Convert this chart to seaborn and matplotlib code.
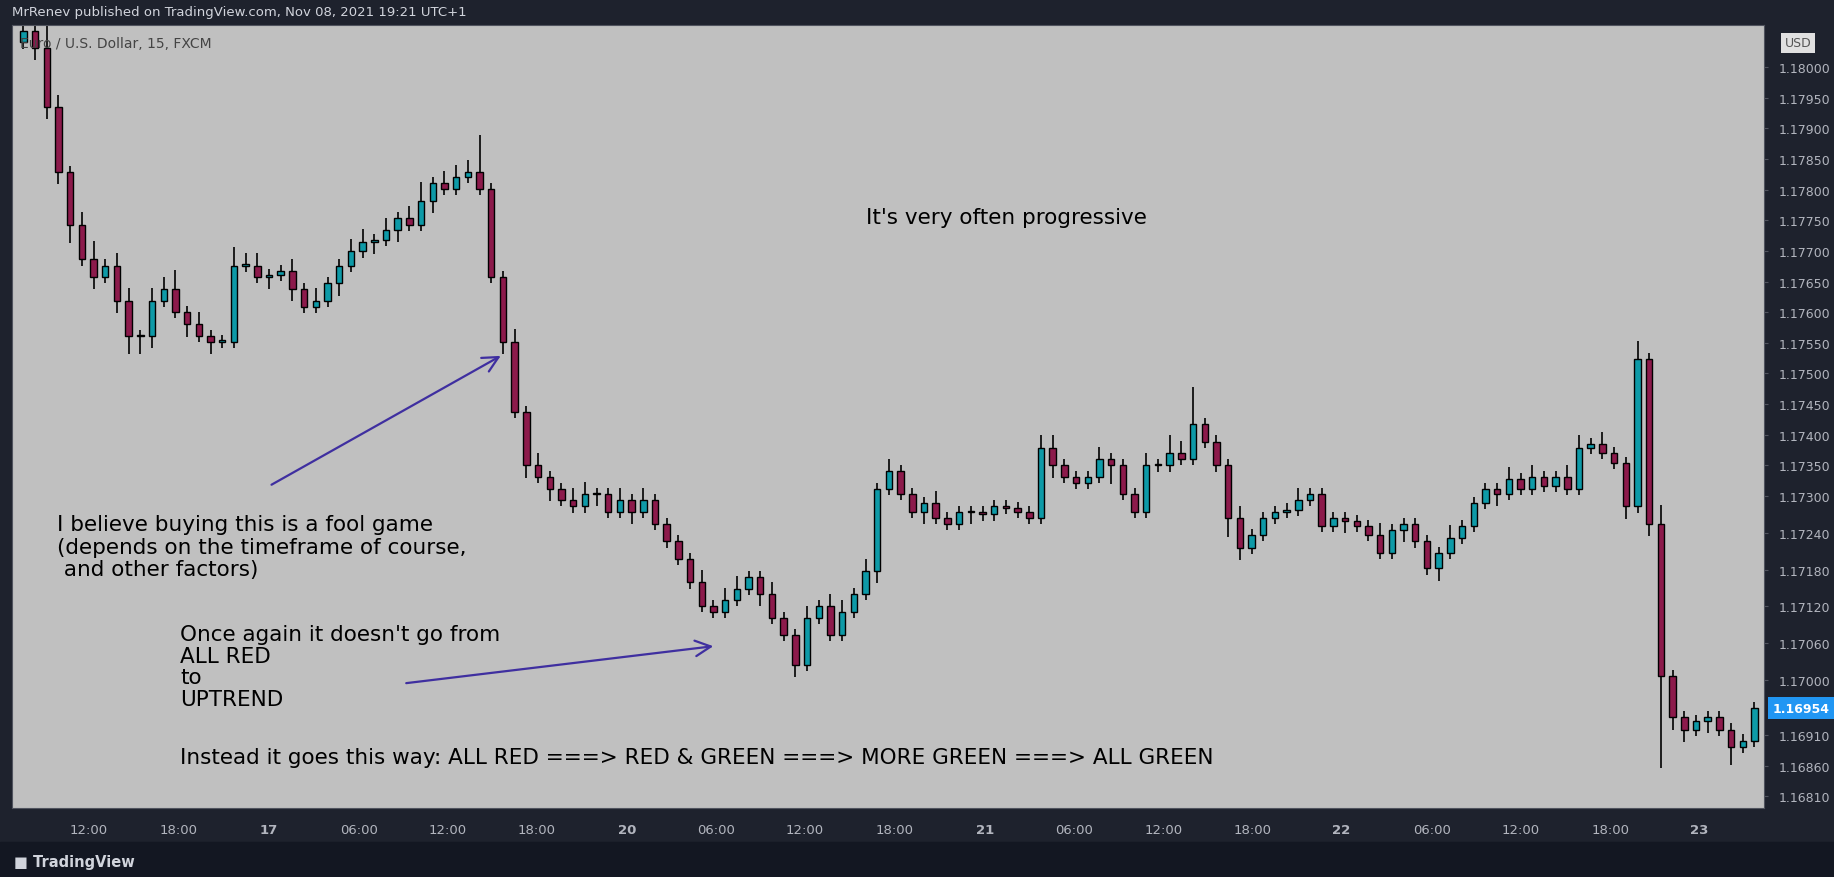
import numpy as np
import pandas as pd
import seaborn as sns
from matplotlib import pyplot as plt

sns.set_style("white")

# EUR/USD 15m, resampled to ~47 min candles
closes = [
    1.18059, 1.18031, 1.17935, 1.17829, 1.17743, 1.17686, 1.17657, 1.17676, 1.17619, 1.17561,
    1.17561, 1.17619, 1.17638, 1.17600, 1.17580, 1.17561, 1.17552, 1.17552, 1.17676, 1.17676,
    1.17657, 1.17661, 1.17667, 1.17638, 1.17609, 1.17619, 1.17647, 1.17676, 1.17699, 1.17715,
    1.17718, 1.17734, 1.17753, 1.17743, 1.17782, 1.17810, 1.17801, 1.17820, 1.17829, 1.17801,
    1.17657, 1.17552, 1.17437, 1.17350, 1.17331, 1.17312, 1.17293, 1.17283, 1.17303, 1.17303,
    1.17274, 1.17293, 1.17274, 1.17293, 1.17255, 1.17226, 1.17197, 1.17159, 1.17121, 1.17111,
    1.17130, 1.17149, 1.17168, 1.17140, 1.17101, 1.17073, 1.17025, 1.17101, 1.17121, 1.17073,
    1.17111, 1.17140, 1.17178, 1.17312, 1.17341, 1.17303, 1.17274, 1.17289, 1.17264, 1.17255,
    1.17274, 1.17274, 1.17270, 1.17283, 1.17280, 1.17274, 1.17264, 1.17379, 1.17350, 1.17331,
    1.17322, 1.17331, 1.17360, 1.17350, 1.17303, 1.17274, 1.17350, 1.17350, 1.17370, 1.17360,
    1.17418, 1.17389, 1.17350, 1.17264, 1.17216, 1.17236, 1.17264, 1.17274, 1.17278, 1.17293,
    1.17303, 1.17251, 1.17264, 1.17259, 1.17251, 1.17236, 1.17207, 1.17245, 1.17255, 1.17226,
    1.17182, 1.17207, 1.17232, 1.17251, 1.17289, 1.17312, 1.17303, 1.17328, 1.17312, 1.17331,
    1.17316, 1.17331, 1.17312, 1.17379, 1.17385, 1.17370, 1.17354, 1.17283, 1.17523, 1.17255,
    1.17006, 1.16939, 1.16919, 1.16933, 1.16939, 1.16919, 1.16891, 1.16901, 1.16954,
]
first_open = 1.18040
# wick extensions beyond the body, in pips
up_wick = [
    3, 2, 4, 2, 1, 2, 3, 1, 2, 2,
    1, 2, 2, 3, 1, 2, 1, 1, 3, 2,
    2, 1, 1, 2, 1, 2, 1, 1, 2, 2,
    1, 2, 1, 2, 3, 1, 2, 2, 2, 6,
    1, 1, 2, 1, 2, 1, 1, 2, 2, 1,
    1, 2, 1, 2, 1, 1, 1, 1, 2, 1,
    2, 2, 1, 1, 2, 1, 1, 2, 1, 2,
    2, 1, 2, 1, 2, 1, 1, 1, 2, 1,
    1, 1, 1, 1, 1, 1, 1, 2, 2, 1,
    1, 1, 2, 1, 1, 1, 2, 1, 3, 2,
    6, 1, 1, 1, 2, 1, 1, 1, 1, 2,
    1, 1, 1, 1, 1, 1, 2, 1, 1, 1,
    1, 1, 2, 1, 1, 1, 1, 2, 1, 2,
    1, 1, 2, 2, 1, 2, 1, 1, 3, 1,
    3, 1, 1, 1, 1, 1, 1, 1, 1,
]
dn_wick = [
    1, 2, 2, 2, 3, 1, 2, 1, 2, 3,
    3, 2, 1, 1, 2, 1, 2, 1, 1, 1,
    1, 2, 1, 2, 1, 1, 1, 2, 1, 1,
    2, 1, 2, 1, 1, 2, 1, 1, 1, 1,
    1, 2, 1, 2, 1, 2, 1, 1, 1, 2,
    1, 1, 2, 1, 1, 1, 1, 1, 1, 1,
    1, 1, 1, 2, 1, 1, 2, 1, 1, 1,
    1, 1, 1, 2, 1, 1, 1, 2, 1, 1,
    1, 2, 1, 1, 1, 1, 1, 1, 2, 1,
    1, 1, 1, 3, 1, 1, 1, 1, 1, 1,
    1, 1, 1, 3, 2, 1, 1, 1, 1, 1,
    1, 1, 1, 2, 1, 1, 1, 1, 2, 1,
    1, 2, 1, 1, 1, 1, 2, 1, 1, 1,
    1, 1, 1, 1, 1, 1, 1, 2, 1, 2,
    15, 2, 2, 1, 2, 1, 3, 1, 1,
]
tick_pos = [5.6, 13.3, 21.0, 28.7, 36.3, 43.9, 51.6, 59.2, 66.8, 74.5,
            82.2, 89.8, 97.5, 105.1, 112.7, 120.4, 128.0, 135.7, 143.3]
tick_labels = ["12:00", "18:00", "17", "06:00", "12:00", "18:00", "20", "06:00", "12:00",
               "18:00", "21", "06:00", "12:00", "18:00", "22", "06:00", "12:00", "18:00", "23"]
price_ticks = [1.18000, 1.17950, 1.17900, 1.17850, 1.17800, 1.17750, 1.17700, 1.17650,
               1.17600, 1.17550, 1.17500, 1.17450, 1.17400, 1.17350, 1.17300, 1.17240,
               1.17180, 1.17120, 1.17060, 1.17000, 1.16910, 1.16860, 1.16810]

df = pd.DataFrame({"close": closes, "up": up_wick, "dn": dn_wick})
df["open"] = [first_open] + closes[:-1]
df["high"] = df[["open", "close"]].max(axis=1) + df["up"] * 0.0001
df["low"] = df[["open", "close"]].min(axis=1) - df["dn"] * 0.0001
df["x"] = np.arange(len(df))

bg = "#131722"
frame = "#1e222d"
bull = "#0e9aa7"
bear = "#8c1a4b"
txt = "#b2b5be"

# layout measured on a 1568 x 751 view of the reference
W, H = 1568, 751
fig = plt.figure(figsize=(18.34, 8.78), dpi=100, facecolor=frame)
ax = fig.add_axes([10 / W, (H - 692) / H, 1498 / W, 670 / H])
ax.set_facecolor("#c0c0c0")

ax.vlines(df["x"], df["low"], df["high"], color="black", linewidth=1.2, zorder=2)
colors = [bull if c >= o else bear for o, c in zip(df["open"], df["close"])]
heights = (df["close"] - df["open"]).abs().clip(lower=0.00002)
bottoms = df[["open", "close"]].min(axis=1)
ax.bar(df["x"], heights, bottom=bottoms, width=0.55, color=colors,
       edgecolor="black", linewidth=1.0, zorder=3)

ax.set_xlim(-1, 148.8)
ax.set_ylim(1.16791, 1.18069)
ax.yaxis.tick_right()
ax.set_yticks(price_ticks)
ax.set_yticklabels([f"{p:.5f}" for p in price_ticks], fontsize=9, color=txt)
ax.set_xticks(tick_pos)
ax.set_xticklabels(tick_labels, fontsize=9.5, color=txt)
for lab in ax.get_xticklabels():
    if ":" not in lab.get_text():
        lab.set_fontweight("bold")
ax.tick_params(axis="both", length=3, color="#50535e", pad=8)
for s in ax.spines.values():
    s.set_color("#50535e")

# last price tag
ax.annotate("1.16954", xy=(1.0, 1.16954), xycoords=("axes fraction", "data"),
            xytext=(6, 0), textcoords="offset points", fontsize=9, color="white",
            fontweight="bold", va="center", ha="left",
            bbox=dict(boxstyle="square,pad=0.35", fc="#2196f3", ec="none"))
ax.text(1.012, 0.985, "USD", transform=ax.transAxes, fontsize=9, color="#555555",
        ha="left", va="top", bbox=dict(boxstyle="square,pad=0.3", fc="#e0e0e0", ec="none"))

ax.text(0.005, 0.985, "Euro / U.S. Dollar, 15, FXCM", transform=ax.transAxes,
        fontsize=10, color="#444444", va="top")

fs = 15.5
ax.text(0.568, 0.755, "It's very often progressive", transform=ax.transAxes,
        fontsize=fs, ha="center", va="center", color="black")
ax.text(0.026, 0.375, "I believe buying this is a fool game\n(depends on the timeframe of course,\n and other factors)",
        transform=ax.transAxes, fontsize=fs, va="top", linespacing=1.15, color="black")
ax.text(0.096, 0.235, "Once again it doesn't go from\nALL RED\nto\nUPTREND",
        transform=ax.transAxes, fontsize=fs, va="top", linespacing=1.1, color="black")
ax.text(0.096, 0.065, "Instead it goes this way: ALL RED ===> RED & GREEN ===> MORE GREEN ===> ALL GREEN",
        transform=ax.transAxes, fontsize=fs, va="center", color="black")

arrow = dict(arrowstyle="->", color="#3f2fa0", linewidth=1.6, mutation_scale=28)
ax.annotate("", xy=(0.2805, 0.579), xytext=(0.1469, 0.411),
            xycoords="axes fraction", arrowprops=arrow)
ax.annotate("", xy=(0.402, 0.207), xytext=(0.2236, 0.159),
            xycoords="axes fraction", arrowprops=arrow)

fig.text(10 / W, 1 - 11 / H, "MrRenev published on TradingView.com, Nov 08, 2021 19:21 UTC+1",
         fontsize=9.5, color="#d1d4dc", va="center")
fig.text(12 / W, 1 - 738 / H, "\u25a0 TradingView", fontsize=10.5, color="#d1d4dc",
         va="center", fontweight="bold")
fig.patches.append(plt.Rectangle((0, 0), 1, 1 - 721 / H, transform=fig.transFigure,
                                 color=bg, zorder=-1))

fig.savefig("out.png", dpi=100, facecolor=frame)
